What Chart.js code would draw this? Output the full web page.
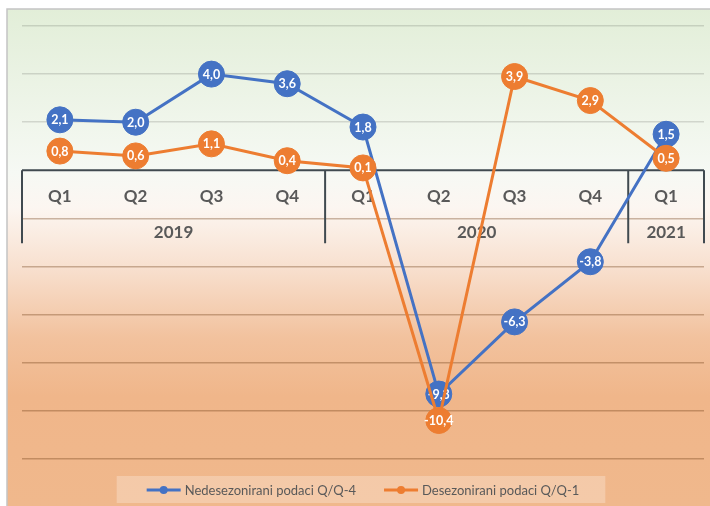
<!DOCTYPE html>
<html>
<head>
<meta charset="utf-8">
<script src="https://cdn.jsdelivr.net/npm/chart.js@4.4.1/dist/chart.umd.min.js"></script>
<style>
  body { margin: 0; background: #fff; }
  canvas { display: block; }
</style>
</head>
<body>
<canvas id="gdpChart" width="710" height="506"></canvas>
<script>
// chart data
const quarters = ['Q1', 'Q2', 'Q3', 'Q4', 'Q1', 'Q2', 'Q3', 'Q4', 'Q1']
const years = ['2019', '2019', '2019', '2019', '2020', '2020', '2020', '2020', '2021']
const nesezonirani = [2.1, 2.0, 4.0, 3.6, 1.8, -9.3, -6.3, -3.8, 1.5]
const desezonirani = [0.8, 0.6, 1.1, 0.4, 0.1, -10.4, 3.9, 2.9, 0.5]
const seriesNames = ['Nedesezonirani podaci Q/Q-4', 'Desezonirani podaci Q/Q-1']
const yTicks = { min: -12, max: 6, step: 2 }

const BLUE = '#4472C4'
const ORANGE = '#ED7D31'
const TEXT = '#595959'
const AXIS = '#404a50'
const FONT = 'Lato, "Open Sans", sans-serif'

const fmt = v => v.toFixed(1).replace('.', ',')

// background gradient + frame
const backgroundPlugin = {
    id: 'bg',
    beforeDraw(chart) {
        const ctx = chart.ctx
        const x0 = 7, y0 = 9, w = chart.width - x0, h = chart.height - y0
        const g = ctx.createLinearGradient(0, y0, 0, chart.height)
        g.addColorStop(0, '#e2eed8')
        g.addColorStop(0.33, '#f6f9f4')
        g.addColorStop(0.40, '#fcf6f1')
        g.addColorStop(0.52, '#f8e0cf')
        g.addColorStop(0.66, '#f2c29e')
        g.addColorStop(0.78, '#f0b68a')
        g.addColorStop(1, '#f0b88c')
        ctx.save()
        ctx.fillStyle = g
        ctx.fillRect(x0, y0, w, h)
        ctx.strokeStyle = '#c4c4c4'
        ctx.lineWidth = 1.5
        ctx.beginPath()
        ctx.moveTo(x0, chart.height)
        ctx.lineTo(x0, y0)
        ctx.lineTo(chart.width, y0)
        ctx.stroke()
        ctx.restore()
    }
}

// category axis sitting on y = 0, with year groups
const categoryAxisPlugin = {
    id: 'catAxis',
    beforeDatasetsDraw(chart) {
        const ctx = chart.ctx
        const xs = chart.scales.x
        const area = chart.chartArea
        const y0 = chart.scales.y.getPixelForValue(0)
        const tickLen = 73

        ctx.save()
        ctx.strokeStyle = AXIS
        ctx.lineWidth = 2
        ctx.beginPath()
        ctx.moveTo(area.left, y0)
        ctx.lineTo(area.right, y0)

        // group boundaries
        const bounds = [area.left]
        for (let i = 1; i < years.length; i++) {
            if (years[i] !== years[i - 1]) {
                bounds.push((xs.getPixelForValue(i - 1) + xs.getPixelForValue(i)) / 2)
            }
        }
        bounds.push(area.right)
        bounds.forEach(b => {
            ctx.moveTo(b, y0)
            ctx.lineTo(b, y0 + tickLen)
        })
        ctx.stroke()

        ctx.fillStyle = TEXT
        ctx.textAlign = 'center'
        ctx.textBaseline = 'middle'
        ctx.font = 'bold 17px ' + FONT
        quarters.forEach((q, i) => {
            ctx.fillText(q, xs.getPixelForValue(i), y0 + 26)
        })

        let groupIdx = 0
        for (let i = 0; i < years.length; i++) {
            if (i === years.length - 1 || years[i + 1] !== years[i]) {
                const cx = (bounds[groupIdx] + bounds[groupIdx + 1]) / 2
                ctx.fillText(years[i], cx, y0 + 62)
                groupIdx++
            }
        }
        ctx.restore()
    }
}

// white value labels inside markers
const valueLabelPlugin = {
    id: 'valueLabels',
    afterDatasetDraw(chart, args) {
        const ctx = chart.ctx
        const ds = chart.data.datasets[args.index]
        ctx.save()
        ctx.fillStyle = '#ffffff'
        ctx.font = 'bold 12.5px ' + FONT
        ctx.textAlign = 'center'
        ctx.textBaseline = 'middle'
        args.meta.data.forEach((pt, i) => {
            ctx.fillText(fmt(ds.data[i]), pt.x, pt.y + 0.5)
        })
        ctx.restore()
    }
}

// legend at the bottom with soft box
const legendPlugin = {
    id: 'customLegend',
    afterDraw(chart) {
        const ctx = chart.ctx
        const area = chart.chartArea
        const cy = 490
        const sym = 34, gap = 4, between = 28, pad = 30
        const sets = [...chart.data.datasets].sort((a, b) => a.legendIdx - b.legendIdx)
        ctx.save()
        ctx.font = '13px ' + FONT
        const widths = sets.map(d => ctx.measureText(d.label).width)
        const total = widths.reduce((s, w) => s + sym + gap + w, 0) + between * (sets.length - 1)
        let x = (area.left + area.right) / 2 - total / 2

        ctx.fillStyle = 'rgba(255,255,255,0.25)'
        ctx.fillRect(x - pad, 476, total + pad * 2 - 4, 27)

        sets.forEach((d, i) => {
            ctx.strokeStyle = d.borderColor
            ctx.lineWidth = 3
            ctx.beginPath()
            ctx.moveTo(x, cy)
            ctx.lineTo(x + sym, cy)
            ctx.stroke()
            ctx.fillStyle = d.borderColor
            ctx.beginPath()
            ctx.arc(x + sym / 2, cy, 4, 0, Math.PI * 2)
            ctx.fill()
            ctx.fillStyle = TEXT
            ctx.textBaseline = 'middle'
            ctx.textAlign = 'left'
            ctx.fillText(d.label, x + sym + gap, cy + 0.5)
            x += sym + gap + widths[i] + between
        })
        ctx.restore()
    }
}

const ctx = document.getElementById('gdpChart').getContext('2d')
const gdpChart = new Chart(ctx, {
    type: 'line',
    data: {
        labels: quarters.map((q, i) => q + ' ' + years[i]),
        datasets: [{
            label: seriesNames[0],
            legendIdx: 0,
            data: nesezonirani,
            borderColor: BLUE,
            backgroundColor: BLUE,
            pointBackgroundColor: BLUE,
            pointBorderColor: BLUE,
            borderWidth: 3,
            pointRadius: 13,
            pointBorderWidth: 1,
            fill: false,
            order: 1
        }, {
            label: seriesNames[1],
            legendIdx: 1,
            data: desezonirani,
            borderColor: ORANGE,
            backgroundColor: ORANGE,
            pointBackgroundColor: ORANGE,
            pointBorderColor: ORANGE,
            borderWidth: 3,
            pointRadius: 13,
            pointBorderWidth: 1,
            fill: false,
            order: 0
        }]
    },
    options: {
        responsive: false,
        animation: false,
        layout: { autoPadding: false, padding: { left: 22, right: 6, top: 26, bottom: 47 } },
        plugins: {
            legend: { display: false },
            tooltip: { enabled: false }
        },
        scales: {
            x: {
                type: 'category',
                offset: true,
                display: false
            },
            y: {
                min: yTicks.min,
                max: yTicks.max,
                ticks: { display: false, stepSize: yTicks.step },
                border: { display: false },
                grid: {
                    drawTicks: false,
                    lineWidth: 1.5,
                    color: c => {
                        const v = c.tick.value
                        if (v === 0) return 'rgba(0,0,0,0)'
                        return v > 0 ? 'rgba(0,0,0,0.13)' : 'rgba(110,60,20,0.35)'
                    }
                }
            }
        }
    },
    plugins: [backgroundPlugin, categoryAxisPlugin, valueLabelPlugin, legendPlugin]
})
</script>
</body>
</html>
